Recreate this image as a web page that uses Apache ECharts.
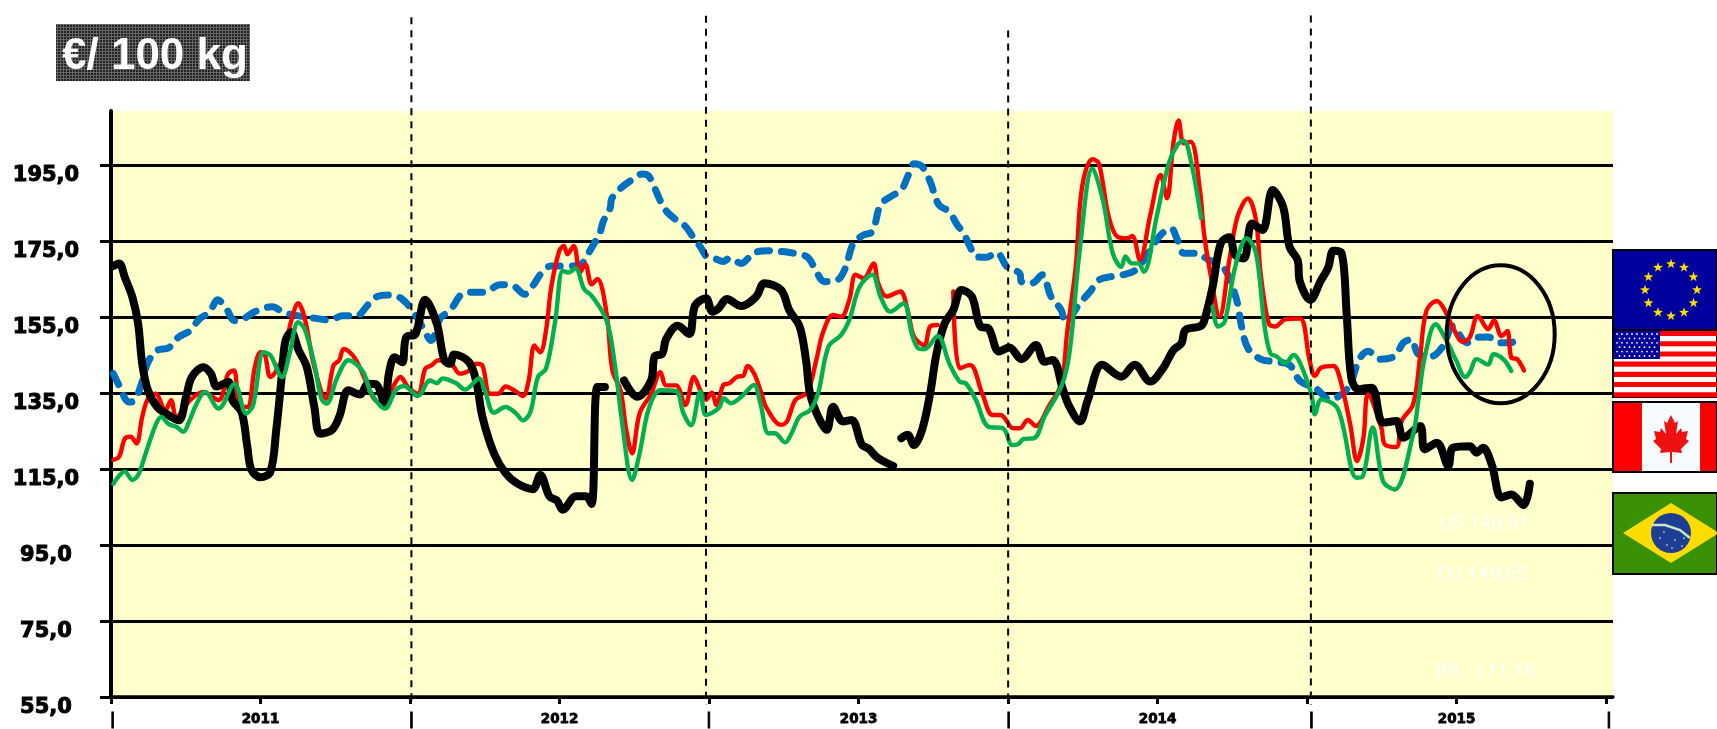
<!DOCTYPE html>
<html><head><meta charset="utf-8">
<style>html,body{margin:0;padding:0;background:#fff}#c{width:1717px;height:729px}</style>
<script src="https://cdn.jsdelivr.net/npm/echarts@6/dist/echarts.min.js"></script>
</head><body><div id="c"></div>
<script>
// [week since start of 2011, EUR/100 kg]
const blackA=[[0.4,168.4],[1.4,169.1],[2.4,165.4],[3.7,160.2],[4.7,153.2],[5.4,142.7],[6.4,135.7],[8,131.3],[9.7,129.4],[11.7,127.8],[13,134],[14,139.2],[16,141.8],[17.3,140.1],[18.3,136.7],[20.3,137.9],[21,133.1],[22.6,130],[23.6,120.9],[24.3,114.8],[25.9,112.8],[27.6,114.3],[28.6,125.2],[29.6,140.1],[30.2,148.8],[31.2,151],[32.5,146.2],[33.9,141.8],[35.2,131.3],[36.2,124.3],[38.2,125.2],[39.5,128.7],[41.1,135.7],[43.1,134.6],[44.5,137.4],[45.8,137.3],[47.4,132.2],[48.1,140.1],[49.1,144.4],[50.4,143.1],[51.1,149.7],[52.7,150.5],[54.4,159.5],[56.4,153.2],[57.7,143.6],[58.7,142.7],[59.4,145.1],[62,143.1],[63.3,137.4],[64.3,128.7],[66.3,119.1],[68.3,113.9],[70.3,111.2],[73,109.7],[74.3,113.4],[75.9,107.8],[77.2,106.7],[78.2,104.3],[80.5,107.8],[82.2,107.8],[83.2,105.8],[84.2,136.6],[85.5,136.6]];
const blackB=[[88.8,138.3],[91.1,134],[93.5,138.3],[94.1,144.6],[95.4,145.3],[96.1,149.2],[98.1,152.7],[100.1,150.5],[101.1,158],[103,159.9],[104.1,156.4],[105.2,157.3],[106.6,159.7],[109.1,157.9],[111.7,160.4],[113.1,163.9],[116,162.1],[117.4,156.8],[119.2,152.5],[120.3,143.7],[121,134.9],[122.4,128.8],[123.9,125.3],[125,131.4],[126.7,127.5],[128.2,127.9],[130,121.3],[131.1,120.4],[132.8,117.8],[135.4,115.8]];
const blackC=[[136.8,123.1],[137.9,124],[139,121.3],[140.4,125.3],[141.8,134.9],[142.9,145.4],[144.3,153.3],[145.8,156.8],[147.2,162.1],[149,160.4],[150.5,152.5],[151.9,152],[153.7,145.9],[155.5,147],[157.6,143.9],[160.1,147.6],[161.6,143.2],[163,143.7],[164.8,135.8],[165.9,131.4],[167.7,127.5],[169.1,133.2],[171.6,142.4],[174.9,139.3],[177.2,142.4],[179.9,138],[182.1,141.5],[183.9,146.3],[185.3,148.1],[186,151.6],[188.5,152.5],[189.2,153.8],[190.7,163],[192.1,174.4],[193.6,176],[194.6,171.3],[196.1,170.4],[197.5,179.6],[199.3,177.9],[201.1,188.4],[202.9,184],[204,173.5],[205.4,170],[205.8,164.3],[207.6,159.5],[209.4,164.5],[210.7,168],[211.6,172.4],[213,171.9],[213.9,155.7],[214.7,139],[215.9,136],[218.2,136.4],[220.2,127.2],[222.5,127.6],[223.7,123.2],[226.6,126.3],[227.4,120.2],[229.5,121.9],[231.5,115.8],[232.3,120.6],[235.2,121],[236.4,119.3],[237.5,120.6],[239,116.2],[240.7,107.5],[242.4,108.3],[244.5,105.5],[245.6,111.1]];
const redA=[[0.4,117.4],[1.4,118.2],[2.4,123],[3.4,123.5],[4.4,121.7],[5.4,128.7],[6.4,133.5],[7.7,134.8],[9.4,130.5],[10.4,133.1],[11.3,128.7],[13.7,133.1],[16,135.3],[18.6,133.1],[20.3,140.1],[21.3,140.9],[22.3,131.3],[23.6,131.3],[24.9,141.8],[25.9,145.7],[26.6,145.3],[27.6,139.2],[29.6,144],[31.2,154],[32.4,158.6],[33.5,154.9],[35.2,141.8],[37.2,133.5],[38.5,142.2],[39.5,143.6],[40.3,146.6],[42.1,144.4],[43.8,139.2],[45.5,133.5],[47.1,132.2],[48.8,136.6],[50.1,139.2],[51.4,136.6],[53.1,134.8],[54.4,141.4],[55.4,142.2],[56.7,143.6],[58.7,143.1],[60.4,140.1],[62,140.9],[63.3,142.7],[64.3,142.2],[65.6,134.8],[67,134.8],[68.3,136.7],[70,135.5],[71.3,134.2],[72.3,138.3],[73.3,147.5],[74.3,145.7],[75.3,151.4],[76.2,162.8],[77.6,172.4],[78.4,173.7],[79,171.5],[80.1,173.7],[81.2,166.7],[82.1,168.9],[83.2,163.6],[84.2,165],[85.8,155.8],[86.8,140.9],[88.2,135.7],[89.2,125.2],[90.2,119.1],[91.5,129.6],[93.5,134.8],[95.1,140.5],[96.1,137],[97.8,137],[99.4,131.8],[100.9,139.2],[102,135.8],[103,133.2],[104,135.1],[104.8,131.8],[106,137.1],[107,137.5],[108.4,139.3],[109.4,139.5],[110.2,142.1],[111.3,140.2],[112.4,135.8],[113.5,131],[116,126.6],[117,127.5],[118.5,133.2],[120.5,135.1],[122.1,143.7],[123.2,150.7],[125,155.5],[126.4,155.1],[127.8,159.5],[128.9,166.1],[130.3,165.2],[132,169.1],[132.8,163.9],[134.3,160.4],[136.6,161.7],[137.9,156.8],[139,149.8],[140.8,147.6],[141.8,152.5],[143.1,152.9]];
const redB=[[145.8,161.7],[146.9,141.5],[148.7,142.4],[150.8,134.9],[152.6,129.2],[154,129.2],[156.2,125.7],[157.3,125.7],[158.7,127.9],[160.1,126.3],[162.3,131.4],[164.5,137.5],[165.5,150.7],[167,168.2],[168.1,189.3],[169.9,196.5],[171,195.4],[172.7,181.4],[174.2,176.1],[176,175.7],[176.8,176.3],[178.1,170],[179.9,181.8],[181.7,192.4],[182.8,186.2],[183.9,200.7],[184.8,206.7],[185.7,200.7],[186.9,201.1],[188.5,188.4],[189.2,177],[190.3,166.5],[191.9,155.1],[193.6,170],[195,181.4],[196.8,186.2],[198.2,180.5],[199,166.5],[200.4,153.3],[201.5,152.5],[203.3,154.4],[205.8,154.6],[207.5,143.4],[208.4,139.5],[209.5,141.7],[211.6,142.1],[212.7,139],[214.5,126.8],[215.7,117.1],[216.8,123.2],[217.6,134.6],[219.9,125.9],[220.5,121.5],[222.5,120.8],[223.4,127.6],[225.4,132],[226.6,144.3],[227.7,156.6],[229.5,159.2],[230.6,157.5],[232.3,152.2],[234,148.5],[235.2,149.6],[236.6,155.3],[238.4,151.8],[239.4,154.1],[240.7,150],[241.7,151.3],[242.4,144.3],[243.4,143.9],[244.6,140.9]];
const greenA=[[0.4,111.1],[2.4,114.3],[3.7,112.1],[4.7,113.4],[6,119.1],[7.7,126.5],[8.7,128.7],[10,126.8],[11.3,126.1],[12.5,124.8],[13.5,127.4],[14.7,131.8],[16.3,135.3],[18.6,130.9],[21.4,137.4],[23.4,129.6],[24.6,131.8],[26.4,145.7],[27.6,144.9],[29.6,139.2],[30.9,145.3],[32.4,153.6],[33.5,151.9],[35.2,142.7],[36.4,133.5],[37.3,132.2],[39.2,139.2],[41.1,143.6],[43.5,140.9],[45.1,134.8],[47.4,130.9],[49.4,135.9],[50.7,136.8],[53.1,134.2],[55.2,138.3],[56.4,137.6],[57.4,138.8],[59.7,137.6],[61.3,135.9],[63.7,138.8],[64.7,135.7],[66.3,129.8],[68.3,131.3],[70,129.8],[71.3,127.8],[72.6,130],[73.9,139.2],[75.3,141.4],[76.9,154],[78.2,167.1],[79.2,166.7],[80.4,167.8],[81.9,162.3],[83.2,160.6],[85.8,154],[87.2,142.7],[88.5,127],[90.2,112.1],[91.5,119.1],[93.1,130.9],[95.1,135.7],[97.8,135.5],[99.1,129.6],[100.4,126.5],[102,135.4],[103,129.2],[105.2,131],[106.1,133.6],[107.3,132.3],[109.1,134],[111.3,137.1],[112.4,132.3],[113.8,124.4],[114.9,124.4],[116.7,122],[117.8,124.4],[119.2,128.8],[121,130.5],[122.4,134.9],[124.2,147.2],[126.4,150.3],[127.8,154.2],[129.6,163],[131.8,166.1],[133.2,160.4],[134.9,156.4],[137.2,158.6],[138.6,150.7],[139.7,146.8],[140.8,146.5],[143.1,150],[145.1,142.8],[146.9,138],[148,137.5],[149.7,133.2],[151.9,126.1],[154.4,125.7],[156,121.3],[157,121.5],[158,122.9],[159.8,123.1],[161.6,128.8],[164.5,136.7],[165.9,145.4],[167.7,172.6],[169.9,194.1],[171.7,185.8],[173.4,171.8],[174.9,168.2],[175.6,170.9],[176.7,169.1],[177.8,169.1],[178.8,166.9],[181,181.4],[183.1,195.4],[184.6,200.3],[185.7,201.4],[186.9,196.3],[188.7,181]];
const greenB=[[190.7,157.7],[191.6,152.5],[192.8,153.8],[194.6,168.2],[196.6,175.7],[198.2,171.8],[199.7,152.5],[200.7,145.4],[201.8,144.6],[203.3,142.8],[204.7,145],[205.8,143],[207.8,134.6],[208.4,129.4],[209.5,133.3],[212.4,130.7],[215.6,112.7],[216.6,112.9],[218.4,125.9],[220.2,111.8],[222.2,109.6],[225.4,124.1],[226.3,132.9],[227.4,144.3],[229.3,153.1],[231.2,148.7],[232.9,143.4],[234.4,139.2],[235.2,140.4],[236.4,143.9],[238.4,142.5],[239.3,145.2],[241,143.9],[242.4,140.8]];
const blueEU=[[0.4,140.1],[1.4,137],[3.1,132.6],[4.1,133.1],[5.1,136.6],[6.4,143.1],[8,146.2],[10,146.9],[11.7,149.7],[13.7,151.4],[15.3,154.5],[17,156.2],[18.5,159.5],[20,157.1],[21.4,154],[22.9,154.5],[24.9,156.4],[27.9,157.7],[29.9,156.2],[32.5,155.3],[35.2,154.7],[37.8,154.2],[40.1,155.3],[42.5,155.3],[44.5,158.2],[46.1,160.4],[48.4,160.8],[50.4,159.7],[52.4,156.2],[54.1,151.9],[55.4,148.8],[57,154.7],[58.7,156.7],[60.7,161],[62.3,161.5],[64.7,161.5],[67.3,163.5],[69.6,163.2],[71.6,161],[73,163.2],[74.6,166.7],[76.2,168.4],[78.9,168.4],[81.2,168.7],[82.3,170.9],[83.5,174],[84.6,177],[85.2,180.1],[86.4,183.6],[86.7,186.2],[88.4,189.1],[90.1,191],[91.9,192.6],[93,192.2],[93.9,189.7],[94.9,186.2],[95.9,183.3],[97.6,180.8],[99.4,178.9],[100.9,175.7],[102.1,173.3],[103.1,170.9],[104.3,170.5],[106,169.6],[107.1,170.5],[109.1,169.1],[111.3,171.9],[113.8,172.4],[116.3,172.2],[118.1,171.8],[120.6,170.7],[122.1,166.9],[123.5,164.3],[125.7,164.7],[127.1,167.8],[128.5,174.4],[130.3,176.6],[131.8,177.5],[133.2,184.5],[135,186.7],[136.8,188.4],[137.9,191.9],[139,195.3],[140.4,194.6],[141.8,190.6],[143.3,184.5],[145.1,182.7],[146.5,179.2],[147.6,177],[148.7,173.5],[149.7,170.9],[151.5,170.7],[153.3,171.9],[155.1,168.2],[157.3,166.5],[157.6,164.3],[159.4,163.9],[161.2,166.1],[162.7,160.4],[164.5,156.8],[165.2,153.8],[167.7,158.6],[169.5,161.7],[171,164.7],[173.1,165.6],[175.2,166.1],[177.4,167.4],[179.9,172.6],[181.7,176.6],[183.5,178.3],[184.6,175.3],[185.7,171.8],[187.8,171.8],[190,170],[192.5,168.2],[194.3,162.1],[195,158.6],[195.7,152.5],[196.8,146.8],[199,143.9],[201.5,143.2],[204,142.4],[205.8,138.2],[208.7,136],[211,133.3],[213,134.6],[214.5,137.3],[216.1,143.9],[217.6,146],[219.6,143.9],[222.2,144.7],[223.7,148.2],[225.1,149.1],[226.3,145.2],[228.6,144.7],[230.6,147.4],[232.3,152.6],[234.7,148.2],[236.4,149.6],[238.4,149.7],[240.4,148.2],[242.2,148.2],[243.9,149.65]];

const yTicks=[55,75,95,115,135,155,175,195];
const xTicks=[0,25.88,51.76,77.64,103.52,129.4,155.28,181.16,207.04,232.92,258.8];
const yearLabels=[[25.88,'2011'],[77.64,'2012'],[129.4,'2013'],[181.16,'2014'],[232.92,'2015']];
const separators=[0.3,52,103.5,155.4,207.8,259.3];
const dividers=[[52,234.5],[103,234.9],[155.3,231],[207.7,235]];
const noteTexts=[['US 140,91',1439,523],['EU 149,65',1437,574],['BR   111,16',1435,671]];

const P={L:111,R:1613,T:111,B:697};
const XMAX=260,YMIN=55,YMAX=209.2;

function star(cx,cy,r,fill){const pts=[];for(let i=0;i<10;i++){const a=-Math.PI/2+i*Math.PI/5,q=i%2?r*0.4:r;pts.push([cx+q*Math.cos(a),cy+q*Math.sin(a)]);}
 return {type:'polygon',shape:{points:pts},style:{fill},silent:true};}
function rect(x,y,w,h,fill,stroke){return {type:'rect',shape:{x,y,width:w,height:h},style:{fill:fill||'none',stroke:stroke||null,lineWidth:stroke?2:0},silent:true};}

function titlePattern(){const c=document.createElement('canvas');c.width=c.height=3;const g=c.getContext('2d');g.fillStyle='#222';g.fillRect(0,0,3,3);g.fillStyle='#666';g.fillRect(0,0,3,1);g.fillRect(0,0,1,3);return {image:c,repeat:'repeat'};}

const G=[];
G.push({type:'rect',shape:{x:56,y:24,width:194,height:57},style:{fill:titlePattern()},silent:true});
G.push({type:'text',x:62,y:57,style:{text:'€/ 100 kg',fill:'#fff',font:'bold 44px "Liberation Sans"',textVerticalAlign:'middle'},silent:true});
G.push(rect(1613,250,104,80,'#00009c','#000'));
for(let i=0;i<12;i++){const a=i*Math.PI/6;G.push(star(1671+26*Math.cos(a),290+26*Math.sin(a),5.2,'#ffdc00'));}
G.push(rect(1613,330,104,67,'#fff','#000'));
for(let i=0;i<7;i++)G.push(rect(1614,331+i*10.2,103,5.1,'#ff0000'));
G.push(rect(1614,331,46,28,'#00009c'));
for(let r=0;r<6;r++)for(let c=0;c<(r%2?8:9);c++)G.push({type:'circle',shape:{cx:1617+c*5+(r%2?2.5:0),cy:334+r*4.4,r:0.9},style:{fill:'#fff'},silent:true});
G.push(rect(1613,402,104,70,'#ff0000','#000'));
G.push(rect(1642,403,58,68,'#f6fbff'));
const leaf=[[0,415],[4,423],[7,421],[5,434],[10,428],[11,432],[17,431],[15,439],[18,441],[10,449],[11,453],[1,452],[1,463]];
G.push({type:'polygon',shape:{points:leaf.map(p=>[1671+p[0],p[1]]).concat(leaf.slice().reverse().map(p=>[1671-p[0],p[1]]))},style:{fill:'#ee1111'},silent:true});
G.push(rect(1613,493,104,81,'#3a9106','#000'));
G.push({type:'polygon',shape:{points:[[1623,533],[1671,503],[1719,533],[1671,563]]},style:{fill:'#ffdc00'},silent:true});
G.push({type:'circle',shape:{cx:1671,cy:533,r:20},style:{fill:'#1c3f94'},silent:true});
G.push({type:'polyline',shape:{points:[[1652,525],[1665,525],[1680,530],[1690,538]]},style:{stroke:'#cfe2c4',lineWidth:2.5,fill:'none'},silent:true});
[[1660,538],[1667,545],[1675,540],[1682,546],[1664,532],[1672,548],[1684,538]].forEach(d=>G.push({type:'circle',shape:{cx:d[0],cy:d[1],r:0.8},style:{fill:'#fff'},silent:true}));
G.push({type:'ellipse',shape:{cx:1500.7,cy:334.3,rx:54,ry:69},style:{fill:'none',stroke:'#000',lineWidth:4},z:20,silent:true});
noteTexts.forEach(t=>G.push({type:'text',x:t[1],y:t[2],style:{text:t[0],fill:'#fff',font:'19.5px "Open Sans"',textVerticalAlign:'middle'},z:20,silent:true}));

const line=(data,color,width,z,extra)=>({type:'line',data,showSymbol:false,smooth:0.35,z,clip:true,silent:true,
  lineStyle:Object.assign({color,width,cap:'round',join:'round'},extra||{})});
const series=[
 line(blueEU,'#0070c0',7,3,{type:[12,12],cap:'round'}),
 line(redA,'#ff0000',4.4,4),line(redB,'#ff0000',4.4,4),
 line(blackA,'#000',8,5),line(blackB,'#000',8,5),line(blackC,'#000',8,5),
 line(greenA,'#00b050',4.4,6),line(greenB,'#00b050',4.4,6)
];
dividers.forEach(d=>series.push({type:'line',xAxisIndex:1,yAxisIndex:1,data:[[d[0],d[1]],[d[0],52.9]],showSymbol:false,silent:true,z:7,lineStyle:{color:'#000',width:2,type:[7,6]}}));

const heavy={color:'#000',fontFamily:'DejaVu Sans',fontWeight:'bold',textBorderColor:'#000'};
const lab={};yearLabels.forEach(y=>lab[y[0]]=y[1]);
const chart=echarts.init(document.getElementById('c'),null,{renderer:'canvas'});
chart.setOption({
 animation:false,backgroundColor:'#fff',
 grid:[
  {left:P.L,top:P.T,width:P.R-P.L,height:P.B-P.T,show:true,backgroundColor:'#ffffcc',borderWidth:0,z:0},
  {left:P.L,top:15,width:P.R-P.L,height:690,show:false}
 ],
 xAxis:[
  {type:'value',min:0,max:XMAX,splitLine:{show:false},
   axisLine:{show:true,onZero:false,lineStyle:{color:'#000',width:3.5}},
   axisTick:{show:true,length:7,customValues:xTicks,lineStyle:{color:'#000',width:3}},
   axisLabel:{show:true,margin:15,hideOverlap:false,showMinLabel:true,showMaxLabel:true,customValues:yearLabels.map(y=>y[0]).concat(separators),
     formatter:v=>lab[v]||'{s||}',
     rich:{s:{fontSize:16,fontFamily:'DejaVu Sans',fontWeight:'bold',color:'#000'}},fontSize:13.5,...heavy,textBorderWidth:0.8}},
  {type:'value',gridIndex:1,min:0,max:XMAX,show:false}
 ],
 yAxis:[
  {type:'value',min:YMIN,max:YMAX,
   axisLine:{show:true,onZero:false,lineStyle:{color:'#000',width:4}},
   axisTick:{show:true,length:11,customValues:yTicks,lineStyle:{color:'#000',width:3}},
   splitLine:{show:true,lineStyle:{color:'#000',width:3}},
   axisLabel:{margin:65,align:'center',verticalAlign:'top',lineHeight:22,customValues:yTicks,showMaxLabel:true,showMinLabel:true,hideOverlap:false,
     formatter:v=>v.toFixed(1).replace('.',','),fontSize:21,...heavy,textBorderWidth:1}},
  {type:'value',gridIndex:1,min:52.9,max:235.1,show:false}
 ],
 series,graphic:{elements:G}
});
</script></body></html>
